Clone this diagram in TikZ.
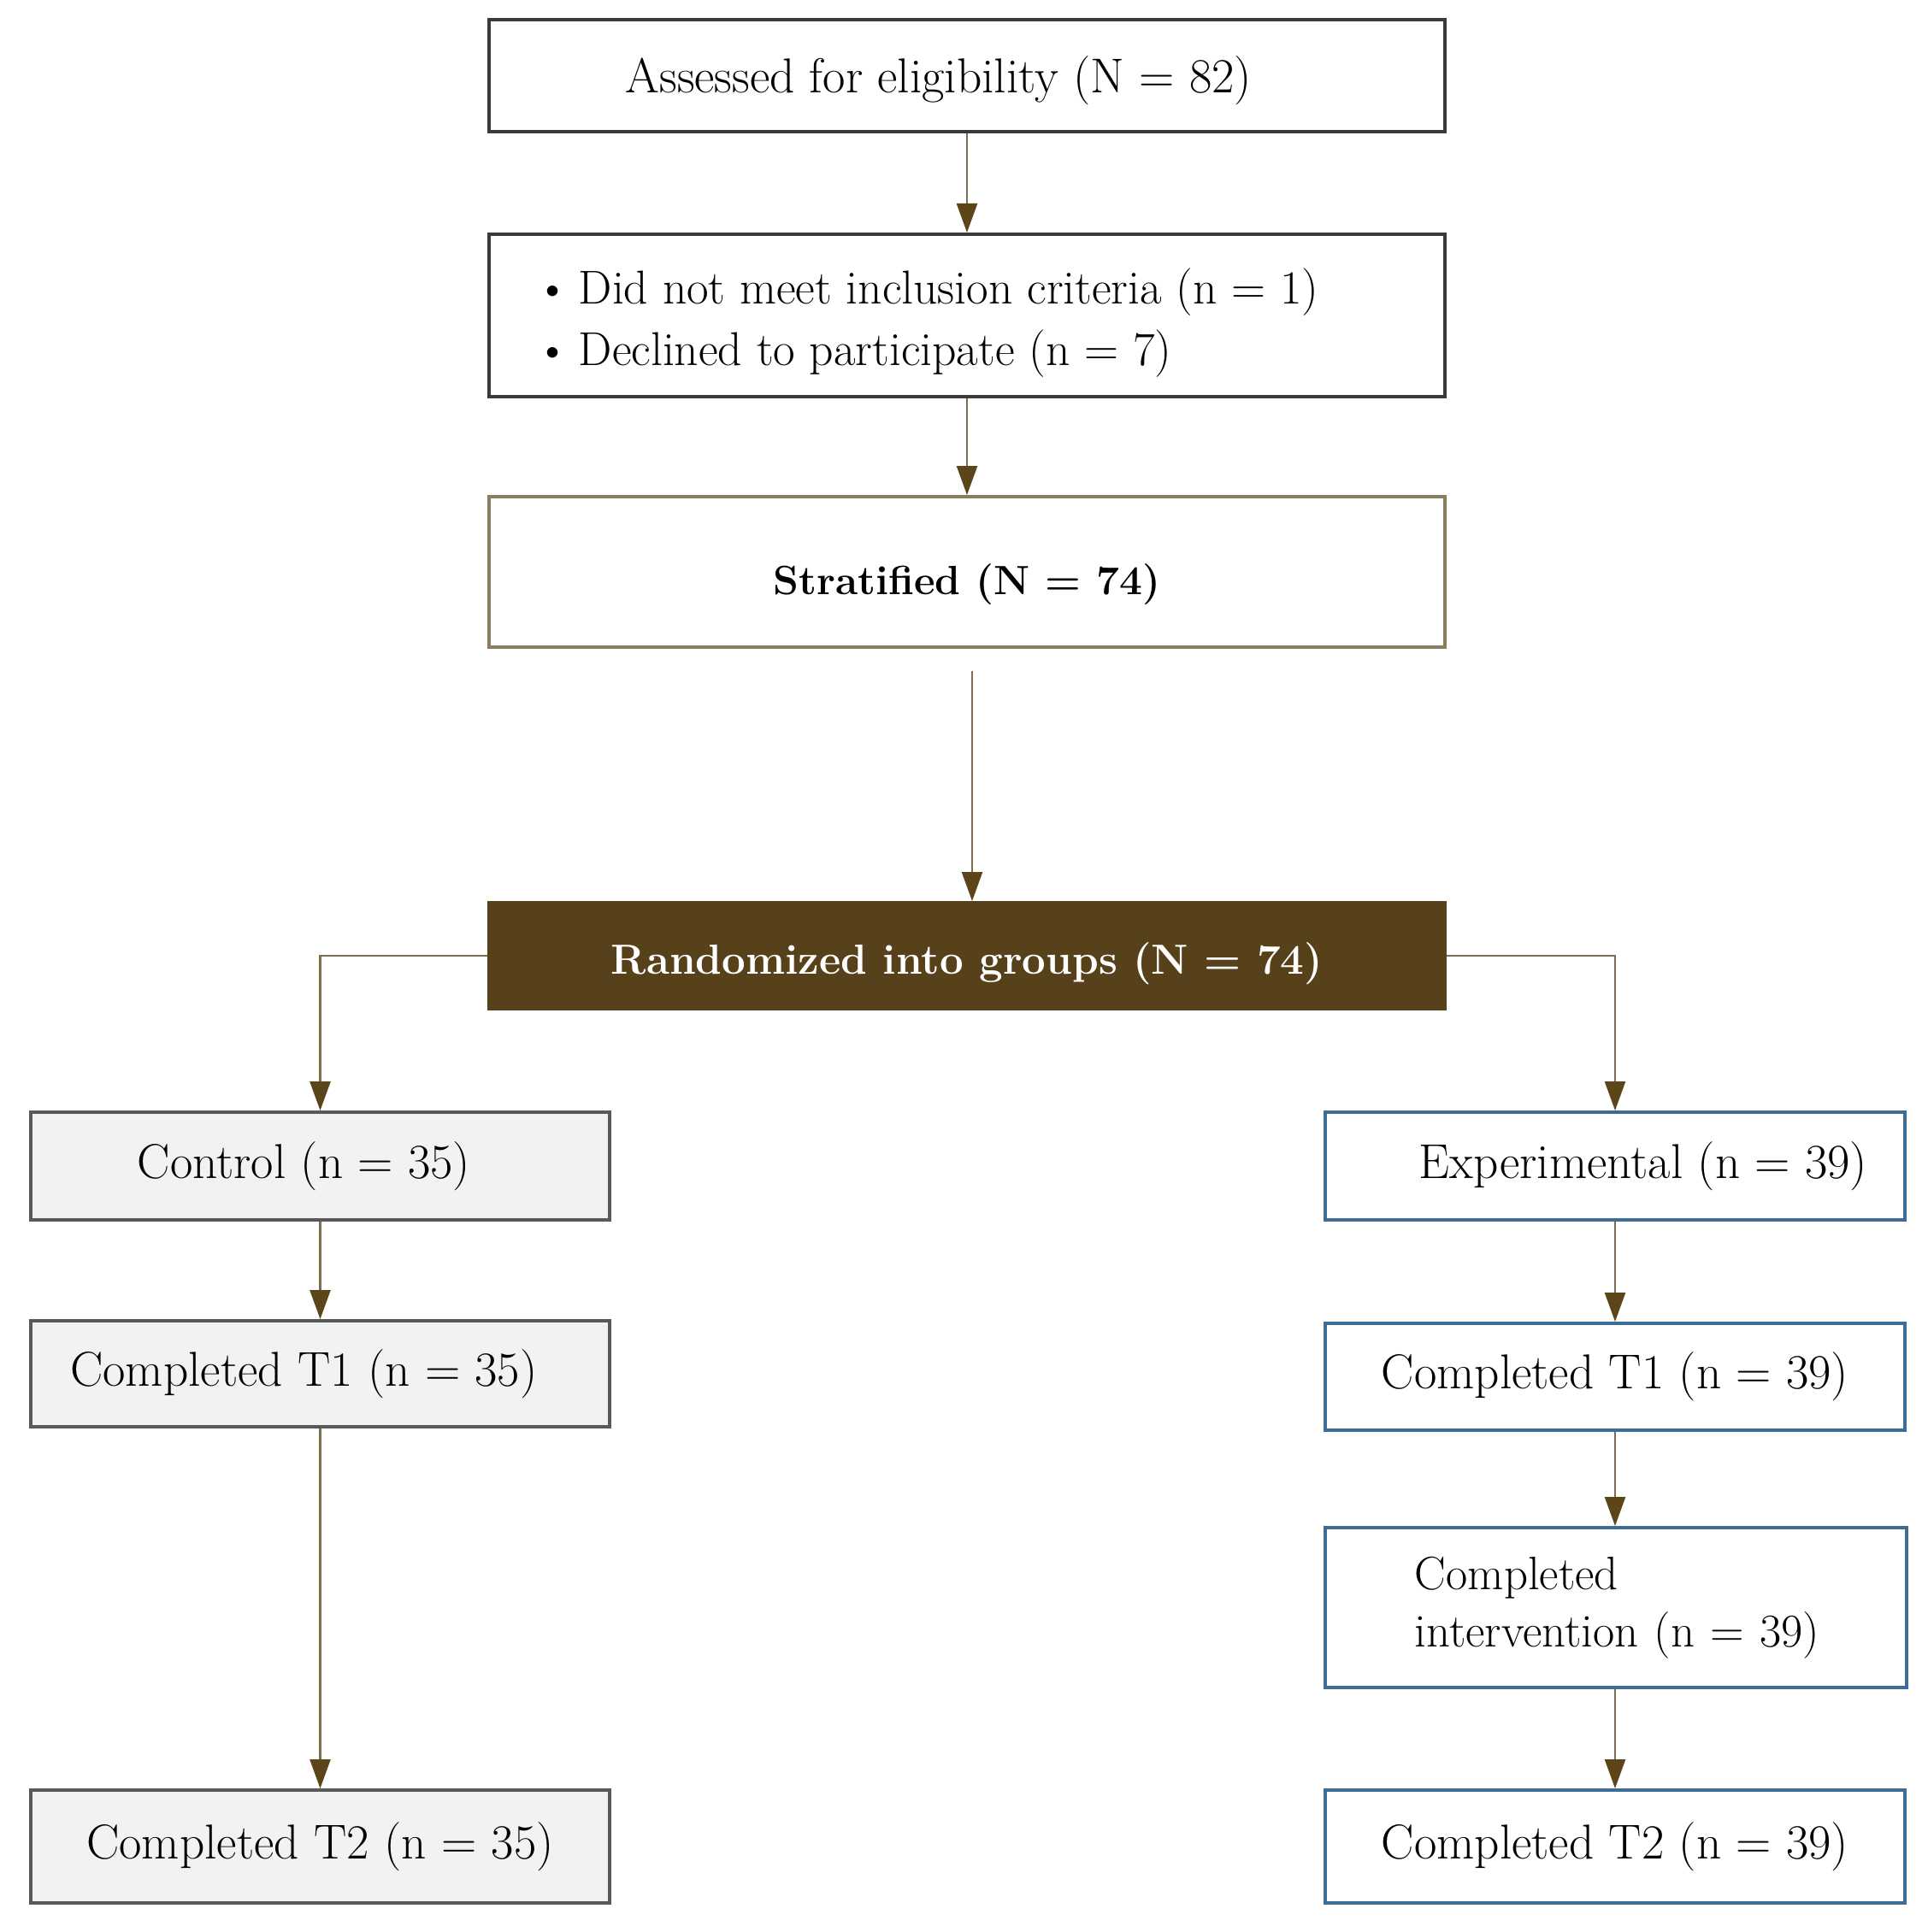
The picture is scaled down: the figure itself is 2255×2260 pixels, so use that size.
\documentclass[tikz,border=0pt]{standalone}
\usetikzlibrary{arrows.meta}
\definecolor{lineTan}{HTML}{7D6E52}
\definecolor{headBrown}{HTML}{5B4519}
\definecolor{darkBorder}{HTML}{3A3A3A}
\definecolor{stratBorder}{HTML}{8A7C5E}
\definecolor{randFill}{HTML}{56411A}
\definecolor{ctrlFill}{HTML}{F1F2F2}
\definecolor{ctrlBorder}{HTML}{595959}
\definecolor{expBorder}{HTML}{3D6D96}
\begin{document}
\begin{tikzpicture}[x=0.01cm,y=-0.01cm,
  every node/.style={font=\fontsize{16.3}{20}\selectfont},
  basebox/.style={rectangle,inner sep=0pt,line width=1.1pt,anchor=center},
  topbox/.style={basebox,draw=darkBorder,minimum width=11.18cm},
  stratbox/.style={basebox,draw=stratBorder,minimum width=11.18cm,font=\fontsize{13.6}{17}\selectfont\bfseries},
  randbox/.style={basebox,fill=randFill,draw=randFill,text=white,minimum width=11.18cm,font=\fontsize{14}{17}\selectfont\bfseries},
  ctrlbox/.style={basebox,draw=ctrlBorder,fill=ctrlFill,minimum width=6.77cm},
  expbox/.style={basebox,draw=expBorder,minimum width=6.77cm},
  plaintext/.style={inner sep=0pt,align=left,anchor=west,font=\fontsize{15.8}{20.5}\selectfont},
  flow/.style={draw=lineTan,line width=0.7pt,-{Triangle[length=0.34cm,width=0.24cm,color=headBrown,fill=headBrown]}}
]
\useasboundingbox (0,0) rectangle (2255,2260);

\node[topbox,minimum height=1.31cm] (assess) at (1131,88.5) {\raisebox{-0.06cm}[\height][\depth]{Assessed for eligibility (N = 82)}\hspace*{0.66cm}};
\node[topbox,minimum height=1.90cm] (excl) at (1131,369) {};
\node[plaintext] (excltxt) at (626,378)
  {\makebox[0.5cm][l]{\textbullet}Did not meet inclusion criteria (n = 1)\\
   \makebox[0.5cm][l]{\textbullet}Declined to participate (n = 7)};
\node[stratbox,minimum height=1.76cm] (strat) at (1131,669) {\raisebox{-0.15cm}[\height][\depth]{Stratified (N = 74)}};
\node[randbox,minimum height=1.24cm] (rand) at (1131,1118) {\raisebox{-0.09cm}[\height][\depth]{Randomized into groups (N = 74)}};

\node[ctrlbox,minimum height=1.26cm] (ctrl) at (374.5,1364) {Control (n = 35)\hspace*{0.38cm}};
\node[ctrlbox,minimum height=1.24cm] (ctrlA) at (374.5,1607) {Completed T1 (n = 35)\hspace*{0.38cm}};
\node[ctrlbox,minimum height=1.32cm] (ctrlB) at (374.5,2160) {Completed T2 (n = 35)};

\node[expbox,minimum height=1.26cm] (exp) at (1889,1364) {\hspace*{0.66cm}Experimental (n = 39)};
\node[expbox,minimum height=1.25cm] (expA) at (1889,1610.5) {Completed T1 (n = 39)};
\node[expbox,minimum width=6.80cm,minimum height=1.87cm,align=left,text width=5.3cm,inner xsep=0.75cm,
      font=\fontsize{15.6}{19}\selectfont] (expI) at (1890,1880.5)
  {\hspace*{0.3cm}Completed\\\hspace*{0.3cm}intervention (n = 39)};
\node[expbox,minimum height=1.32cm] (expB) at (1889,2160) {Completed T2 (n = 39)};

\coordinate (stratOut) at (1137,785);

\draw[flow] (assess) -- (excl);
\draw[flow] (excl) -- (strat);
\draw[flow] (stratOut) -- (stratOut |- rand.north);
\draw[flow] (rand.west) -| (ctrl.north);
\draw[flow] (rand.east) -| (exp.north);
\draw[flow] (ctrl) -- (ctrlA);
\draw[flow] (ctrlA) -- (ctrlB);
\draw[flow] (exp) -- (expA);
\draw[flow] (expA) -- (expA |- expI.north);
\draw[flow] (expA |- expI.south) -- (expB);
\end{tikzpicture}
\end{document}
